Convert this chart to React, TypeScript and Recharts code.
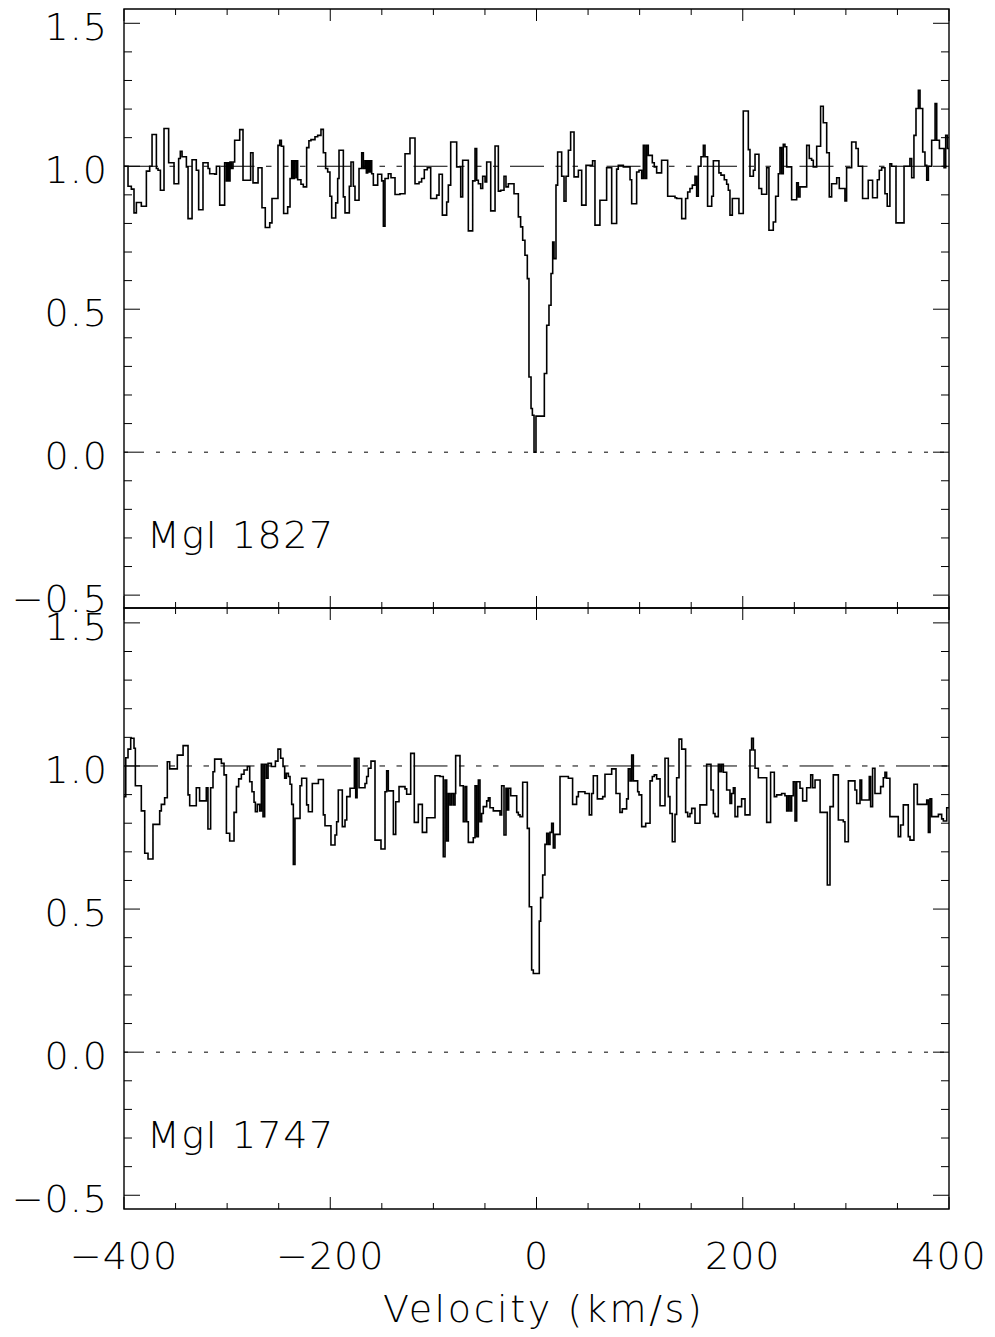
import React from "react";
import {
  LineChart,
  Line,
  XAxis,
  YAxis,
  ReferenceLine,
  ReferenceArea
} from "recharts";

// MgI 1827 panel: left edge of each step (km/s) and normalised flux
const topVel = [
  -400, -396.1, -392.9, -390.3, -388.0, -383.2, -378.3, -375.1, -372.8, -368.6,
  -367.0, -364.7, -361.2, -356.7, -351.5, -347.0, -345.4, -343.7, -339.5, -337.9,
  -334.0, -329.9, -327.6, -323.4, -318.5, -316.9, -312.1, -310.4, -307.2, -302.4,
  -300.7, -299.8, -298.5, -297.2, -295.9, -294.3, -292.7, -287.8, -284.6, -277.2,
  -274.9, -270.0, -266.2, -263.0, -258.7, -256.5, -250.7, -249.0, -247.4, -245.2,
  -241.3, -239.0, -237.4, -236.1, -234.8, -233.2, -232.4, -231.6, -228.4, -226.1,
  -222.9, -220.7, -218.7, -214.8, -212.2, -209.0, -206.7, -204.5, -202.5, -200.3,
  -198.6, -194.7, -192.8, -191.5, -187.3, -185.7, -181.5, -179.9, -177.6, -176.0,
  -172.1, -169.5, -167.9, -166.3, -165.0, -163.7, -162.4, -161.1, -159.8, -158.2,
  -154.0, -150.1, -148.5, -146.9, -143.7, -141.1, -137.2, -132.4, -127.5, -122.7,
  -117.8, -113.9, -111.4, -108.8, -105.9, -102.6, -96.8, -94.5, -91.3, -87.1,
  -85.5, -83.2, -77.4, -73.5, -71.6, -66.1, -61.9, -59.6, -58.0, -56.4,
  -54.1, -52.2, -49.9, -48.3, -44.4, -40.2, -37.0, -34.7, -31.5, -29.6,
  -27.3, -21.8, -17.6, -15.4, -13.4, -11.2, -8.9, -7.3, -5.3, -4.0,
  -2.4, -0.5, 7.6, 9.9, 12.1, 14.1, 15.7, 17.0, 18.9, 20.5,
  24.4, 26.7, 28.6, 30.9, 33.1, 36.4, 40.6, 43.8, 48.0, 54.4,
  56.7, 61.5, 68.0, 72.9, 77.7, 79.3, 84.2, 90.7, 92.3, 97.1,
  99.4, 102.0, 103.6, 105.2, 106.8, 108.4, 112.3, 114.2, 116.5, 121.3,
  127.2, 134.3, 135.9, 140.8, 144.6, 146.6, 148.8, 151.1, 153.7, 155.3,
  156.9, 159.5, 161.8, 163.4, 165.9, 169.9, 171.5, 176.9, 178.9, 182.1,
  184.4, 186.0, 187.6, 189.9, 196.3, 200.5, 205.4, 207.0, 210.3, 211.9,
  215.7, 218.3, 223.2, 225.4, 229.6, 231.9, 234.5, 236.1, 237.7, 239.3,
  240.9, 242.6, 247.4, 252.3, 253.9, 255.5, 262.0, 264.5, 266.8, 268.4,
  271.7, 275.5, 278.1, 281.4, 283.9, 286.2, 291.1, 293.6, 299.1, 300.7,
  305.6, 309.8, 312.0, 316.2, 321.7, 325.9, 330.5, 332.4, 334.7, 337.9,
  340.1, 342.7, 344.4, 348.6, 356.4, 362.1, 363.8, 366.0, 368.0, 370.3,
  371.9, 374.5, 376.7, 378.4, 380.0, 383.2, 386.5, 388.1, 390.7, 395.2,
  396.8, 398.5
];
const topFlux = [
  1.000, 0.930, 0.920, 0.837, 0.873, 0.860, 0.983, 1.000, 1.111, 0.992,
  0.986, 0.916, 1.132, 1.012, 0.939, 1.027, 1.052, 1.033, 0.998, 0.817,
  1.023, 0.986, 0.848, 1.012, 0.992, 0.974, 0.972, 1.000, 0.864, 1.012,
  0.949, 1.012, 0.949, 1.015, 0.992, 1.015, 1.091, 1.128, 0.951, 1.047,
  0.942, 0.995, 0.855, 0.786, 0.802, 0.887, 1.073, 1.091, 1.070, 0.835,
  0.858, 0.957, 1.019, 0.957, 1.019, 0.960, 1.019, 0.953, 0.937, 0.928,
  1.065, 1.089, 1.093, 1.103, 1.108, 1.129, 1.047, 0.992, 0.980, 0.895,
  0.819, 0.872, 0.957, 1.056, 0.893, 0.837, 0.930, 1.015, 0.930, 0.881,
  0.992, 1.047, 0.992, 1.019, 0.977, 1.019, 0.980, 1.019, 0.974, 0.934,
  0.972, 0.949, 0.790, 0.957, 0.974, 0.960, 0.901, 0.904, 1.044, 1.099,
  0.939, 0.945, 0.957, 0.988, 0.995, 0.887, 0.899, 0.972, 0.829, 0.875,
  0.934, 1.085, 0.998, 0.893, 1.021, 0.774, 0.949, 1.062, 0.951, 0.939,
  0.922, 0.965, 0.945, 1.015, 0.844, 1.071, 0.913, 0.916, 0.965, 0.928,
  0.939, 0.904, 0.823, 0.788, 0.741, 0.689, 0.607, 0.263, 0.153, 0.129,
  0.000, 0.126, 0.275, 0.444, 0.514, 0.625, 0.735, 0.677, 0.934, 1.050,
  0.965, 0.878, 0.965, 1.056, 1.120, 0.963, 0.986, 0.864, 1.003, 1.019,
  0.794, 0.881, 0.995, 0.800, 0.990, 1.003, 0.998, 0.953, 0.869, 0.980,
  0.986, 0.957, 1.073, 0.957, 1.073, 1.038, 1.012, 0.998, 0.977, 1.021,
  0.895, 0.890, 0.887, 0.817, 0.887, 0.910, 0.922, 0.934, 0.965, 0.895,
  1.000, 1.033, 1.073, 1.033, 0.860, 0.895, 1.019, 0.977, 0.969, 0.953,
  0.937, 0.916, 0.829, 0.887, 0.835, 1.193, 1.058, 0.965, 0.986, 1.042,
  0.922, 0.902, 0.995, 0.776, 0.805, 0.895, 0.974, 1.065, 0.974, 1.077,
  1.068, 0.998, 0.883, 0.942, 0.893, 0.928, 1.073, 1.027, 1.021, 0.998,
  1.070, 1.210, 1.152, 1.047, 0.893, 0.939, 0.960, 0.922, 0.879, 0.995,
  1.085, 1.062, 1.000, 0.887, 0.951, 0.890, 0.953, 0.986, 0.995, 0.904,
  0.860, 1.009, 1.000, 0.802, 1.000, 1.027, 0.960, 1.108, 1.202, 1.266,
  1.202, 1.050, 1.003, 0.951, 1.000, 1.091, 1.219, 1.091, 1.062, 0.995,
  1.108, 1.062
];

// MgI 1747 panel
const botVel = [
  -400, -398.3, -396.1, -393.5, -390.3, -389.0, -383.2, -379.9, -376.7, -371.9,
  -365.4, -363.8, -360.6, -358.0, -355.7, -348.3, -342.7, -337.9, -336.3, -329.9,
  -326.7, -320.2, -318.6, -316.0, -313.7, -312.1, -305.6, -303.0, -300.7, -297.5,
  -293.3, -291.0, -288.8, -286.2, -283.6, -280.4, -278.1, -275.9, -273.9, -272.6,
  -270.7, -268.4, -266.8, -265.2, -263.6, -261.9, -260.3, -257.1, -253.2, -250.7,
  -248.1, -245.8, -244.2, -242.6, -240.6, -239.0, -237.4, -235.8, -234.2, -229.3,
  -227.7, -222.9, -221.2, -217.4, -211.5, -206.7, -205.1, -199.3, -195.4, -193.8,
  -192.2, -188.3, -185.7, -184.0, -180.8, -176.6, -175.3, -174.0, -172.1, -166.3,
  -164.7, -163.1, -160.5, -156.6, -150.8, -146.9, -145.3, -143.7, -138.8, -136.5,
  -133.3, -127.5, -125.9, -122.0, -118.5, -114.6, -110.7, -106.5, -98.4, -93.6,
  -90.4, -88.7, -87.1, -85.5, -83.9, -82.3, -80.6, -79.0, -78.4, -74.2,
  -71.0, -69.3, -67.7, -66.1, -61.3, -59.6, -58.0, -56.4, -54.8, -53.2,
  -51.6, -48.3, -46.7, -45.1, -41.9, -35.4, -33.8, -31.5, -29.6, -28.3,
  -27.0, -25.0, -19.2, -17.6, -16.0, -13.4, -8.9, -7.0, -4.7, -3.1,
  2.7, 4.0, 6.0, 8.2, 9.9, 11.5, 13.1, 14.7, 16.3, 17.9,
  22.8, 30.9, 35.0, 38.9, 40.6, 47.0, 51.2, 53.5, 55.1, 59.0,
  64.2, 66.4, 72.9, 77.1, 80.9, 83.2, 87.4, 89.0, 90.7, 92.3,
  93.9, 98.1, 99.4, 102.0, 105.9, 110.1, 112.3, 114.2, 116.5, 119.8,
  124.6, 127.8, 129.4, 131.7, 134.3, 135.9, 138.2, 140.8, 144.6, 146.6,
  148.8, 150.5, 153.7, 158.5, 165.0, 169.2, 171.5, 173.1, 176.3, 177.9,
  179.5, 181.2, 184.4, 187.6, 189.2, 190.9, 192.5, 195.1, 198.9, 202.2,
  207.0, 208.6, 210.3, 211.9, 215.1, 223.2, 227.0, 230.6, 232.9, 237.7,
  240.9, 242.6, 244.2, 245.8, 247.4, 249.0, 250.7, 252.3, 255.5, 258.1,
  262.0, 265.9, 267.8, 270.1, 275.0, 282.0, 284.6, 287.8, 292.7, 297.5,
  299.1, 302.4, 308.8, 310.5, 313.7, 315.3, 322.7, 324.0, 325.9, 328.2,
  333.7, 336.3, 337.9, 339.5, 342.7, 350.8, 353.1, 355.7, 360.5, 362.2,
  366.0, 369.3, 378.4, 380.0, 381.6, 383.2, 389.7, 392.9, 394.5, 397.8
];
const botFlux = [
  0.893, 1.029, 1.059, 1.097, 1.062, 0.931, 0.843, 0.695, 0.675, 0.796,
  0.843, 0.866, 0.889, 1.015, 0.990, 1.038, 1.071, 0.899, 0.861, 0.924,
  0.878, 0.924, 0.780, 0.924, 0.980, 1.024, 1.009, 0.969, 0.765, 0.738,
  0.838, 0.928, 0.955, 0.971, 0.986, 0.998, 0.945, 0.910, 0.873, 0.840,
  0.866, 0.843, 1.006, 0.823, 1.006, 0.957, 1.009, 0.998, 1.017, 1.059,
  1.027, 0.998, 0.957, 0.974, 0.963, 0.936, 0.866, 0.656, 0.817, 0.931,
  0.957, 0.864, 0.840, 0.939, 0.953, 0.829, 0.791, 0.724, 0.759, 0.805,
  0.916, 0.788, 0.811, 0.893, 0.922, 1.027, 0.889, 1.027, 0.924, 0.939,
  0.963, 0.992, 1.017, 0.741, 0.710, 0.910, 0.983, 0.913, 0.761, 0.875,
  0.928, 0.920, 0.901, 1.044, 0.803, 0.866, 0.768, 0.819, 0.966, 0.963,
  0.683, 0.951, 0.738, 0.904, 0.864, 0.904, 0.864, 0.904, 1.036, 0.931,
  0.805, 0.928, 0.805, 0.733, 0.749, 0.931, 0.753, 0.951, 0.805, 0.834,
  0.858, 0.878, 0.889, 0.854, 0.843, 0.829, 0.931, 0.759, 0.922, 0.846,
  0.922, 0.896, 0.838, 0.829, 0.823, 0.943, 0.782, 0.508, 0.287, 0.275,
  0.458, 0.540, 0.619, 0.726, 0.765, 0.726, 0.768, 0.800, 0.714, 0.761,
  0.963, 0.957, 0.866, 0.893, 0.910, 0.904, 0.829, 0.904, 0.966, 0.885,
  0.893, 0.971, 0.990, 0.904, 0.838, 0.850, 0.885, 0.990, 0.948, 1.038,
  0.948, 0.910, 0.899, 0.788, 0.800, 0.948, 0.963, 0.969, 0.955, 0.861,
  1.027, 0.893, 0.834, 0.735, 0.831, 0.959, 1.094, 1.059, 0.838, 0.823,
  0.834, 0.852, 0.800, 0.864, 1.006, 0.916, 0.834, 0.823, 1.006, 0.980,
  1.006, 0.978, 0.916, 0.869, 0.904, 0.924, 0.823, 0.858, 0.885, 0.829,
  1.056, 1.097, 1.056, 0.992, 0.959, 0.803, 0.978, 0.893, 0.899, 0.904,
  0.896, 0.843, 0.896, 0.843, 0.896, 0.945, 0.808, 0.945, 0.922, 0.878,
  0.924, 0.969, 0.924, 0.951, 0.838, 0.584, 0.858, 0.969, 0.811, 0.805,
  0.735, 0.948, 0.916, 0.869, 0.951, 0.881, 0.963, 0.858, 0.992, 0.904,
  0.928, 0.959, 0.978, 0.957, 0.823, 0.753, 0.794, 0.864, 0.753, 0.741,
  0.936, 0.866, 0.881, 0.768, 0.885, 0.823, 0.831, 0.815, 0.808, 0.854
];

const velTicks = [-400, -350, -300, -250, -200, -150, -100, -50, 0, 50, 100, 150, 200, 250, 300, 350, 400];
const velLabels = [-400, -200, 0, 200, 400];
const fluxTicks = [
  -0.5, -0.4, -0.3, -0.2, -0.1, 0, 0.1, 0.2, 0.3, 0.4, 0.5,
  0.6, 0.7, 0.8, 0.9, 1.0, 1.1, 1.2, 1.3, 1.4, 1.5
];
const fluxLabels = [-0.5, 0, 0.5, 1.0, 1.5];

const FONT = "'DejaVu Sans', sans-serif";
const PLOT_W = 825;

function stepData(vel: number[], flux: number[]) {
  const rows = vel.map((v, i) => ({ v, f: flux[i] }));
  rows.push({ v: 400, f: flux[flux.length - 1] });
  return rows;
}

const minus = (s: string) => s.replace("-", "\u2212");

function XTick(props: any) {
  const { x, y, payload, plotH, labels } = props;
  const major = velLabels.includes(payload.value);
  const len = major ? 12 : 6;
  return (
    <g>
      <line x1={x} y1={y} x2={x} y2={y - len} stroke="#000" strokeWidth={1} />
      <line x1={x} y1={y - plotH} x2={x} y2={y - plotH + len} stroke="#000" strokeWidth={1} />
      {labels && major && (
        <text x={x} y={y + 60} textAnchor="middle" fontFamily={FONT} fontWeight={200}
          fontSize={38} fill="#000" letterSpacing={1}>
          {minus(String(payload.value))}
        </text>
      )}
    </g>
  );
}

function YTick(props: any) {
  const { x, y, payload } = props;
  const major = fluxLabels.some((m) => Math.abs(m - payload.value) < 1e-6);
  const len = major ? 16 : 8;
  return (
    <g>
      <line x1={x} y1={y} x2={x + len} y2={y} stroke="#000" strokeWidth={1} />
      <line x1={x + PLOT_W} y1={y} x2={x + PLOT_W - len} y2={y} stroke="#000" strokeWidth={1} />
      {major && (
        <text x={x - 16} y={y + 17} textAnchor="end" fontFamily={FONT} fontWeight={200}
          fontSize={38} fill="#000" letterSpacing={1}>
          {minus(payload.value.toFixed(1))}
        </text>
      )}
    </g>
  );
}

function Panel({ vel, flux, domain, height, top, axisH, plotH, labels }: any) {
  return (
    <LineChart width={995} height={height} data={stepData(vel, flux)}
      margin={{ top, right: 46, bottom: 0, left: 0 }}>
      <XAxis dataKey="v" type="number" domain={[-400, 400]} ticks={velTicks} interval={0}
        allowDataOverflow height={axisH} tickSize={0} tickMargin={0} tickLine={false}
        axisLine={false} tick={(p: any) => <XTick {...p} plotH={plotH} labels={labels} />} />
      <YAxis type="number" domain={domain} ticks={fluxTicks} interval={0} allowDataOverflow
        width={124} tickSize={0} tickMargin={0} tickLine={false} axisLine={false}
        tick={(p: any) => <YTick {...p} />} />
      <ReferenceLine y={0} stroke="#000" strokeWidth={1} strokeDasharray="4 12" />
      <ReferenceLine y={1} stroke="#000" strokeWidth={1}
        strokeDasharray="34 11.5 5.5 11.5 5.5 11.5 5.5 11.5" />
      <Line type="stepAfter" dataKey="f" stroke="#000" strokeWidth={1.6} dot={false}
        strokeLinejoin="miter" isAnimationActive={false} />
      <ReferenceArea x1={-400} x2={400} y1={domain[0]} y2={domain[1]} fill="none"
        stroke="#000" strokeWidth={1.4} ifOverflow="visible" />
    </LineChart>
  );
}

const textStyle: React.CSSProperties = {
  position: "absolute",
  fontFamily: FONT,
  fontWeight: 200,
  fontSize: 38,
  lineHeight: 1,
  whiteSpace: "nowrap",
  color: "#000"
};

export default function App() {
  return (
    <div style={{ position: "absolute", left: 0, top: 0, width: 995, height: 1337, background: "#fff" }}>
      <div style={{ position: "absolute", left: 0, top: 0 }}>
        <Panel vel={topVel} flux={topFlux} domain={[-0.545, 1.55]} height={620}
          top={9} axisH={12} plotH={599} labels={false} />
      </div>
      <div style={{ position: "absolute", left: 0, top: 600 }}>
        <Panel vel={botVel} flux={botFlux} domain={[-0.548, 1.552]} height={737}
          top={8} axisH={128} plotH={601} labels={true} />
      </div>
      <div style={{ ...textStyle, left: 147, top: 516, letterSpacing: 1.5 }}>MgI 1827</div>
      <div style={{ ...textStyle, left: 147, top: 1116, letterSpacing: 1.5 }}>MgI 1747</div>
      <div style={{ ...textStyle, left: 383, top: 1290, letterSpacing: 2.6 }}>Velocity (km/s)</div>
    </div>
  );
}
